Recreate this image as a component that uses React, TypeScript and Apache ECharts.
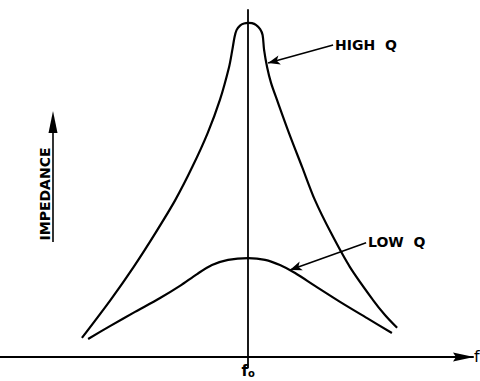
import React, { useEffect, useRef } from "react";
import * as echarts from "echarts";

// Frequency offset from resonance (f0 = 0), arbitrary units
const HIGH_Q_FREQ = [-67.0, -55.5, -46.2, -37.4, -29.4, -22.5, -16.3, -11.4, -7.7, -6.4, -5.5, -4.7, -3.3, -1.7, 0, 1.5, 3.1, 4.8, 5.8, 6.4, 7.6, 9.2, 11.6, 16.4, 21.7, 26.9, 33.4, 41.0, 50.3, 55.1, 60.0];
const HIGH_Q_IMP = [5.5, 16.4, 25.9, 35.7, 45.2, 54.8, 64.6, 74.1, 83.6, 88.5, 92.2, 94.2, 95.5, 96.1, 96.3, 96.2, 95.7, 94.5, 92.8, 88.5, 83.6, 79.0, 74.1, 64.6, 54.8, 45.2, 35.7, 25.9, 16.4, 12.1, 8.4];

const LOW_Q_FREQ = [-64.5, -55.7, -45.6, -35.5, -27.5, -20.6, -14.6, -8.1, 0, 6.8, 12.8, 18.9, 26.9, 37.0, 47.9, 57.9];
const LOW_Q_IMP = [5.2, 8.9, 13.0, 17.0, 20.5, 23.9, 26.5, 28.0, 28.5, 28.0, 26.5, 24.2, 20.5, 15.9, 11.2, 6.9];

const X_TICK_VALUES = [0];
const X_AXIS_NAME = "f";
const Y_AXIS_NAME = "IMPEDANCE";
const HIGH_Q_LABEL = "HIGH  Q";
const LOW_Q_LABEL = "LOW  Q";
// annotation leader lines: [label point], [curve point]
const HIGH_Q_LEADER = [[34.2, 89.9], [8.0, 84.7]];
const LOW_Q_LEADER = [[47.5, 32.9], [16.8, 25.1]];

const FONT = "DejaVu Sans";

export default function App() {
  const ref = useRef<HTMLDivElement>(null);
  useEffect(() => {
    if (!ref.current) return;
    const chart = echarts.init(ref.current, undefined, { renderer: "svg" });
    const leader = (pts: number[][], text: string) => ({
      silent: true,
      symbol: ["none", "arrow"],
      symbolSize: [7, 12],
      lineStyle: { color: "#000", width: 1.6, type: "solid" },
      label: {
        show: true,
        position: "start",
        distance: 2,
        formatter: text,
        color: "#000",
        fontFamily: FONT,
        fontWeight: "bold",
        fontSize: 14,
      },
      data: [[{ coord: pts[0] }, { coord: pts[1] }]],
    });
    chart.setOption({
      animation: false,
      backgroundColor: "#fff",
      grid: { left: 0, right: 7, top: 10, bottom: 13.6, outerBoundsMode: "none", containLabel: false },
      xAxis: {
        type: "value",
        min: -100,
        max: 90.57,
        name: X_AXIS_NAME,
        nameLocation: "end",
        nameGap: 1,
        nameTextStyle: { color: "#000", fontFamily: FONT, fontSize: 16, verticalAlign: "middle", padding: [8, 0, 0, 0] },
        axisLine: {
          onZero: true,
          symbol: ["none", "none"],
          lineStyle: { color: "#000", width: 2 },
        },
        axisTick: { show: false },
        splitLine: { show: false },
        axisLabel: {
          customValues: X_TICK_VALUES,
          margin: -5,
          formatter: () => "{a|f}{b|o}",
          rich: {
            a: { fontFamily: FONT, fontSize: 15, lineHeight: 16, color: "#000", fontWeight: "bold", verticalAlign: "bottom" },
            b: { fontFamily: FONT, fontSize: 10, lineHeight: 16, color: "#000", fontWeight: "bold", verticalAlign: "bottom" },
          },
        },
      },
      yAxis: {
        type: "value",
        min: -3,
        max: 100,
        axisLine: { show: true, onZero: true, lineStyle: { color: "#000", width: 1.8 } },
        axisTick: { show: false },
        axisLabel: { show: false },
        splitLine: { show: false },
      },
      series: [
        {
          type: "line",
          name: "High Q",
          data: HIGH_Q_FREQ.map((f, i) => [f, HIGH_Q_IMP[i]]),
          smooth: 0.3,
          showSymbol: false,
          lineStyle: { color: "#000", width: 2.2 },
          markLine: leader(HIGH_Q_LEADER, HIGH_Q_LABEL),
        },
        {
          type: "line",
          name: "Low Q",
          data: LOW_Q_FREQ.map((f, i) => [f, LOW_Q_IMP[i]]),
          smooth: 0.3,
          showSymbol: false,
          lineStyle: { color: "#000", width: 2.2 },
          markLine: leader(LOW_Q_LEADER, LOW_Q_LABEL),
        },
      ],
      graphic: [
        {
          type: "polygon",
          shape: { points: [[474, 357], [453, 352.5], [456, 357], [453, 361.5]] },
          style: { fill: "#000" },
        },
        {
          type: "text",
          x: 45,
          y: 194,
          rotation: Math.PI / 2,
          style: {
            text: Y_AXIS_NAME,
            fill: "#000",
            font: `bold 14px "${FONT}"`,
            align: "center",
            verticalAlign: "middle",
          },
        },
        {
          type: "line",
          shape: { x1: 53, y1: 242, x2: 53, y2: 130 },
          style: { stroke: "#000", lineWidth: 1.6 },
        },
        {
          type: "polygon",
          shape: { points: [[53, 111], [48.5, 133], [57.5, 133]] },
          style: { fill: "#000" },
        },
      ],
    });
    return () => chart.dispose();
  }, []);
  return (
    <div
      ref={ref}
      style={{ position: "fixed", left: 0, top: 0, width: 480, height: 381 }}
    />
  );
}
